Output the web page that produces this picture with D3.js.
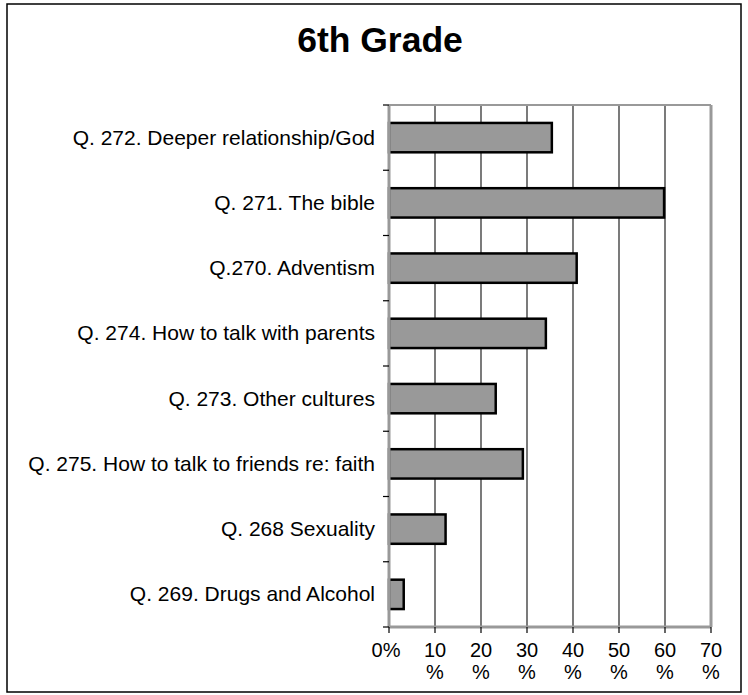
<!DOCTYPE html>
<html><head><meta charset="utf-8">
<script src="https://cdn.jsdelivr.net/npm/d3@7"></script>
<style>body{margin:0;background:#fff}svg{display:block}text{font-family:"Liberation Sans",Arial,sans-serif;fill:#000}</style>
</head><body>
<script>
const title = "6th Grade";
const categories = [
  "Q. 272. Deeper relationship/God",
  "Q. 271. The bible",
  "Q.270. Adventism",
  "Q. 274. How to talk with parents",
  "Q. 273. Other cultures",
  "Q. 275. How to talk to friends re: faith",
  "Q. 268 Sexuality",
  "Q. 269. Drugs and Alcohol"
];
const values = [35.4, 59.8, 40.8, 34.1, 23.2, 29.1, 12.3, 3.2];
const tickValues = [0, 10, 20, 30, 40, 50, 60, 70];
const tickLabels = [["0%"], ["10","%"], ["20","%"], ["30","%"], ["40","%"], ["50","%"], ["60","%"], ["70","%"]];

const W = 748, H = 695;
const m = {left: 389, right: 711, top: 105, bottom: 627};
const svg = d3.select("body").append("svg").attr("width", W).attr("height", H);

svg.append("rect").attr("x", 7).attr("y", 4).attr("width", 734).attr("height", 688)
  .attr("fill", "#fff").attr("stroke", "#000").attr("stroke-width", 1.5);

svg.append("text").attr("x", 380).attr("y", 52).attr("text-anchor", "middle")
  .attr("font-size", 35.5).attr("font-weight", "bold").text(title);

const x = d3.scaleLinear().domain([0, 70]).range([m.left, m.right]);
const y = d3.scaleBand().domain(categories).range([m.top, m.bottom]).paddingInner(0.55).paddingOuter(0.275);
const yb = d3.scaleBand().domain(categories).range([m.top, m.bottom]);

// gridlines
svg.append("g").selectAll("line").data(tickValues.slice(1, -1)).join("line")
  .attr("x1", d => x(d)).attr("x2", d => x(d)).attr("y1", m.top).attr("y2", m.bottom)
  .attr("stroke", "#222").attr("stroke-width", 1.2);

// plot frame top/right
svg.append("line").attr("x1", m.left).attr("x2", m.right).attr("y1", m.top).attr("y2", m.top)
  .attr("stroke", "#999").attr("stroke-width", 2);
svg.append("line").attr("x1", m.right).attr("x2", m.right).attr("y1", m.top).attr("y2", m.bottom)
  .attr("stroke", "#999").attr("stroke-width", 3);

// bars
svg.append("g").selectAll("rect").data(values).join("rect")
  .attr("x", x(0)).attr("y", (d, i) => y(categories[i]))
  .attr("width", d => x(d) - x(0)).attr("height", y.bandwidth())
  .attr("fill", "#999").attr("stroke", "#000").attr("stroke-width", 2.5);

// left axis
svg.append("line").attr("x1", m.left).attr("x2", m.left).attr("y1", m.top).attr("y2", m.bottom)
  .attr("stroke", "#999").attr("stroke-width", 3);
const bounds = categories.map(c => yb(c)).concat([m.bottom]);
svg.append("g").selectAll("line").data(bounds).join("line")
  .attr("x1", m.left - 6).attr("x2", m.left).attr("y1", d => d).attr("y2", d => d)
  .attr("stroke", "#000").attr("stroke-width", 1.2);
svg.append("g").selectAll("text").data(categories).join("text")
  .attr("x", m.left - 14).attr("y", d => yb(d) + yb.bandwidth() / 2 + 7)
  .attr("text-anchor", "end").attr("font-size", 21).text(d => d);

// bottom axis
svg.append("line").attr("x1", m.left).attr("x2", m.right).attr("y1", m.bottom).attr("y2", m.bottom)
  .attr("stroke", "#999").attr("stroke-width", 3);
svg.append("g").selectAll("line").data(tickValues).join("line")
  .attr("x1", d => x(d)).attr("x2", d => x(d)).attr("y1", m.bottom).attr("y2", m.bottom + 6)
  .attr("stroke", "#000").attr("stroke-width", 1.2);
const tl = svg.append("g").selectAll("text").data(tickValues).join("text")
  .attr("x", d => x(d) + (d === 0 ? -3 : 0)).attr("y", 657).attr("text-anchor", "middle").attr("font-size", 20);
tl.each(function(d, i) {
  const t = d3.select(this);
  tickLabels[i].forEach((s, j) => {
    t.append("tspan").attr("x", x(d) + (d === 0 ? -3 : 0)).attr("dy", j === 0 ? 0 : 22).text(s);
  });
});
</script>
</body></html>
